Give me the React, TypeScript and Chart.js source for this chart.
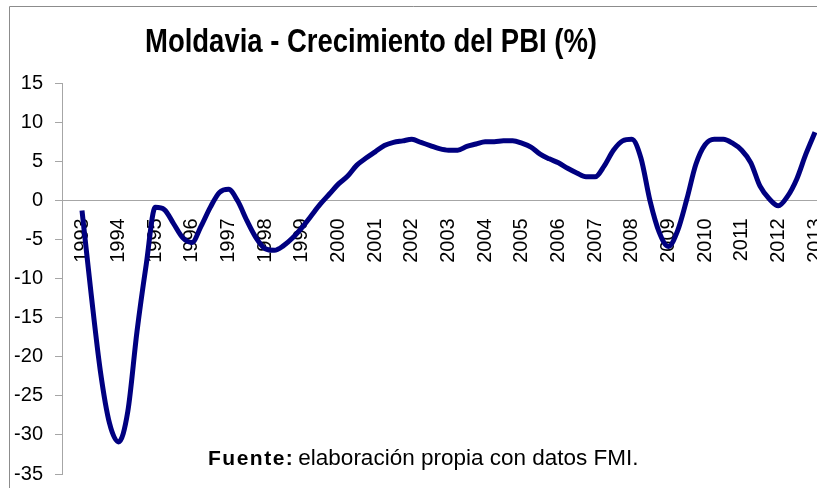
import React, { useEffect, useRef } from 'react';
import { Chart, registerables } from 'chart.js';

Chart.register(...registerables);

const chartTitle = 'Moldavia - Crecimiento del PBI (%)';
const sourceLabel = 'Fuente:';
const sourceText = 'elaboración propia con datos FMI.';

// x-axis tick labels (years)
const years = [
  1993, 1994, 1995, 1996, 1997, 1998, 1999, 2000, 2001, 2002, 2003,
  2004, 2005, 2006, 2007, 2008, 2009, 2010, 2011, 2012, 2013,
];
// y-axis tick labels
const yTicks = [-35, -30, -25, -20, -15, -10, -5, 0, 5, 10, 15];

// series: quarterly readings from 1993 to 2013
const startYear = 1993;
const pointsPerYear = 4;
const gdpGrowth = [
  -1.3, -12.0, -21.8, -28.5,
  -30.9, -27.0, -16.8, -8.3,
  -0.9, -1.2, -3.0, -4.8,
  -5.4, -3.3, -0.9, 1.0,
  1.4, -0.1, -2.6, -4.8,
  -6.2, -6.4, -5.8, -4.8,
  -3.5, -2.0, -0.5, 0.8,
  2.1, 3.1, 4.5, 5.4,
  6.2, 7.0, 7.4, 7.6,
  7.8, 7.4, 7.0, 6.6,
  6.4, 6.4, 6.9, 7.2,
  7.5, 7.5, 7.6, 7.6,
  7.3, 6.8, 5.9, 5.3,
  4.8, 4.1, 3.5, 3.0,
  3.0, 4.4, 6.4, 7.6,
  7.8, 5.4, -0.1, -4.1,
  -5.9, -3.9, 0.1, 4.6,
  7.1, 7.8, 7.8, 7.3,
  6.4, 4.8, 1.8, 0.2,
  -0.7, 0.5, 2.7, 5.9,
  8.7,
];

const FONT = "'Liberation Sans', Arial, sans-serif";
const AXIS_GREY = '#a6a6a6';

const framePlugin = {
  id: 'frame',
  beforeDraw(chart: any) {
    const { ctx, width, height } = chart;
    ctx.save();
    ctx.strokeStyle = '#8c8c8c';
    ctx.lineWidth = 1;
    ctx.beginPath();
    ctx.moveTo(9.5, height);
    ctx.lineTo(9.5, 6.5);
    ctx.lineTo(width, 6.5);
    ctx.stroke();
    ctx.restore();
  },
};

const titlePlugin = {
  id: 'condensedTitle',
  afterDraw(chart: any) {
    const { ctx } = chart;
    ctx.save();
    ctx.fillStyle = '#000';
    ctx.font = `bold 33px ${FONT}`;
    ctx.textAlign = 'center';
    ctx.textBaseline = 'alphabetic';
    const w = ctx.measureText(chartTitle).width;
    const targetW = 452;
    ctx.translate(371, 52);
    ctx.scale(targetW / w, 1);
    ctx.fillText(chartTitle, 0, 0);
    ctx.restore();
  },
};

const sourcePlugin = {
  id: 'sourceNote',
  afterDraw(chart: any) {
    const { ctx } = chart;
    ctx.save();
    ctx.fillStyle = '#000';
    ctx.textBaseline = 'alphabetic';
    ctx.textAlign = 'left';
    const x0 = 208;
    const y0 = 465;
    ctx.font = `bold 21px ${FONT}`;
    (ctx as any).letterSpacing = '1.5px';
    ctx.fillText(sourceLabel, x0, y0);
    const w = ctx.measureText(sourceLabel).width;
    (ctx as any).letterSpacing = '0px';
    ctx.font = `22.5px ${FONT}`;
    ctx.fillText(sourceText, x0 + w + 4, y0);
    ctx.restore();
  },
};

export default function App() {
  const canvasRef = useRef<HTMLCanvasElement | null>(null);

  useEffect(() => {
    if (!canvasRef.current) return;
    const points = gdpGrowth.map((v, i) => ({ x: startYear + i / pointsPerYear, y: v }));
    const chart = new Chart(canvasRef.current, {
      type: 'line',
      data: {
        datasets: [
          {
            label: 'Crecimiento del PBI (%)',
            data: points,
            borderColor: '#000080',
            backgroundColor: '#000080',
            borderWidth: 5,
            pointRadius: 0,
            cubicInterpolationMode: 'monotone',
            fill: false,
          },
        ],
      },
      options: {
        animation: false,
        responsive: false,
        maintainAspectRatio: false,
        layout: { padding: { left: 0, right: 0, top: 83, bottom: 14 } },
        plugins: {
          legend: { display: false },
          tooltip: { enabled: false },
          title: { display: false },
        },
        scales: {
          x: {
            type: 'linear',
            position: { y: 0 },
            min: 1993 - 20 / 36.65,
            max: 1993 - 20 / 36.65 + 755 / 36.65,
            afterBuildTicks: (scale: any) => {
              scale.ticks = years.map((y) => ({ value: y }));
            },
            afterFit: (scale: any) => {
              scale.paddingLeft = 0;
              scale.paddingRight = 0;
              scale.paddingTop = 0;
              scale.paddingBottom = 0;
            },
            grid: { display: false, drawTicks: false },
            border: { display: true, color: AXIS_GREY, width: 1 },
            ticks: {
              autoSkip: false,
              minRotation: 90,
              maxRotation: 90,
              padding: 18,
              color: '#000',
              font: { family: FONT, size: 20 },
              callback: (v: any) => String(v),
            },
          },
          y: {
            type: 'linear',
            min: -35,
            max: 15,
            afterBuildTicks: (scale: any) => {
              scale.ticks = yTicks.map((v) => ({ value: v }));
            },
            afterFit: (scale: any) => {
              scale.width = 62;
              scale.paddingTop = 0;
              scale.paddingBottom = 0;
            },
            grid: {
              drawOnChartArea: false,
              drawTicks: true,
              tickLength: 7,
              color: AXIS_GREY,
            },
            border: { display: true, color: AXIS_GREY, width: 1 },
            ticks: {
              padding: 12,
              color: '#000',
              font: { family: FONT, size: 20 },
              callback: (v: any) => String(v),
            },
          },
        },
      },
      plugins: [framePlugin, titlePlugin, sourcePlugin],
    });
    return () => chart.destroy();
  }, []);

  return (
    <div style={{ position: 'fixed', left: 0, top: 0, width: 817, height: 488, background: '#fff' }}>
      <canvas ref={canvasRef} width={817} height={488} style={{ width: 817, height: 488, display: 'block' }} />
    </div>
  );
}
